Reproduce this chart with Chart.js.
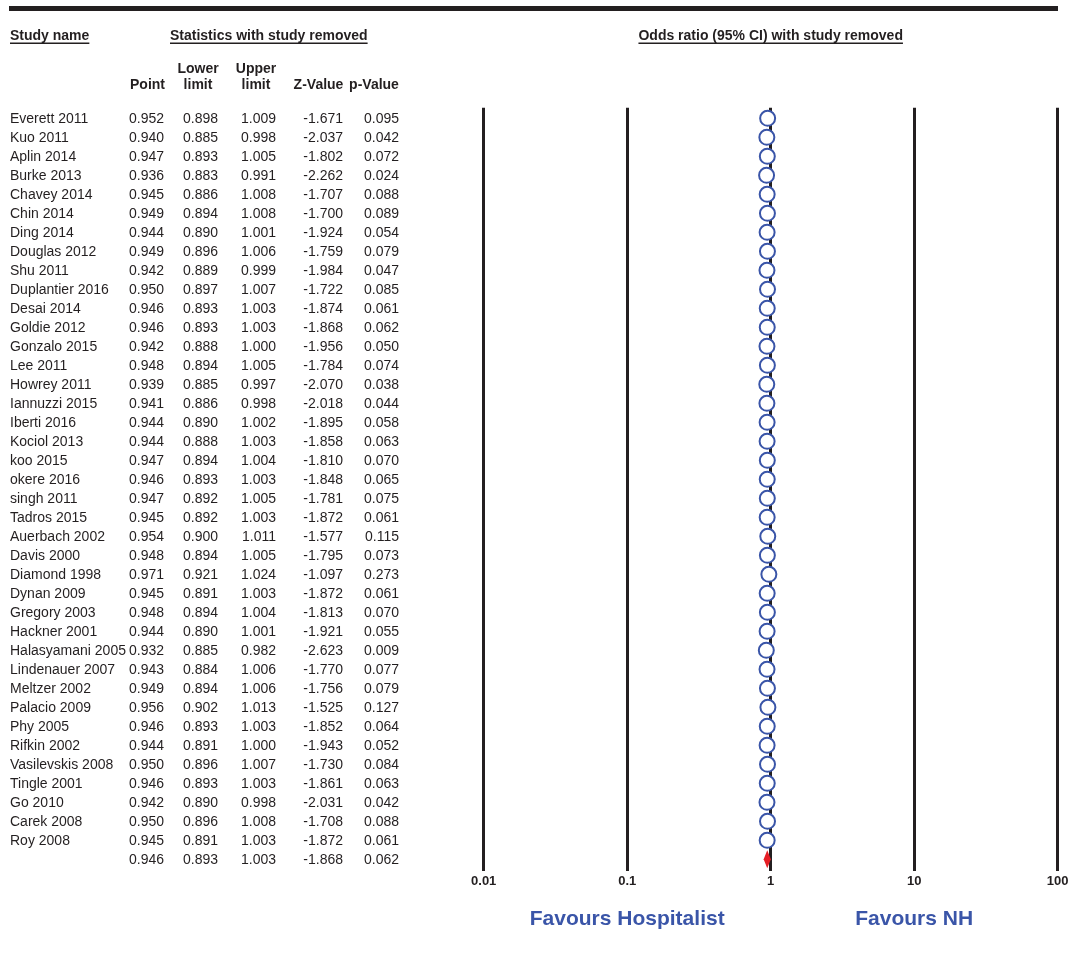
<!DOCTYPE html>
<html>
<head>
<meta charset="utf-8">
<script src="https://cdn.jsdelivr.net/npm/chart.js@4"></script>
<style>
  body { margin: 0; background: #fff; }
  canvas { display: block; }
</style>
</head>
<body>
<canvas id="chart" width="1074" height="958"></canvas>
<script>
/* DATA */
const studyNames = [
  "Everett 2011", "Kuo 2011", "Aplin 2014", "Burke 2013", "Chavey 2014", "Chin 2014",
  "Ding 2014", "Douglas 2012", "Shu 2011", "Duplantier 2016", "Desai 2014", "Goldie 2012",
  "Gonzalo 2015", "Lee 2011", "Howrey 2011", "Iannuzzi 2015", "Iberti 2016", "Kociol 2013",
  "koo 2015", "okere 2016", "singh 2011", "Tadros 2015", "Auerbach 2002", "Davis 2000",
  "Diamond 1998", "Dynan 2009", "Gregory 2003", "Hackner 2001", "Halasyamani 2005",
  "Lindenauer 2007", "Meltzer 2002", "Palacio 2009", "Phy 2005", "Rifkin 2002",
  "Vasilevskis 2008", "Tingle 2001", "Go 2010", "Carek 2008", "Roy 2008"
];
const pointEst = [
  0.952, 0.940, 0.947, 0.936, 0.945, 0.949, 0.944, 0.949, 0.942, 0.950, 0.946, 0.946,
  0.942, 0.948, 0.939, 0.941, 0.944, 0.944, 0.947, 0.946, 0.947, 0.945, 0.954, 0.948,
  0.971, 0.945, 0.948, 0.944, 0.932, 0.943, 0.949, 0.956, 0.946, 0.944, 0.950, 0.946,
  0.942, 0.950, 0.945
];
const lowerLimit = [
  0.898, 0.885, 0.893, 0.883, 0.886, 0.894, 0.890, 0.896, 0.889, 0.897, 0.893, 0.893,
  0.888, 0.894, 0.885, 0.886, 0.890, 0.888, 0.894, 0.893, 0.892, 0.892, 0.900, 0.894,
  0.921, 0.891, 0.894, 0.890, 0.885, 0.884, 0.894, 0.902, 0.893, 0.891, 0.896, 0.893,
  0.890, 0.896, 0.891
];
const upperLimit = [
  1.009, 0.998, 1.005, 0.991, 1.008, 1.008, 1.001, 1.006, 0.999, 1.007, 1.003, 1.003,
  1.000, 1.005, 0.997, 0.998, 1.002, 1.003, 1.004, 1.003, 1.005, 1.003, 1.011, 1.005,
  1.024, 1.003, 1.004, 1.001, 0.982, 1.006, 1.006, 1.013, 1.003, 1.000, 1.007, 1.003,
  0.998, 1.008, 1.003
];
const zValue = [
  -1.671, -2.037, -1.802, -2.262, -1.707, -1.700, -1.924, -1.759, -1.984, -1.722, -1.874, -1.868,
  -1.956, -1.784, -2.070, -2.018, -1.895, -1.858, -1.810, -1.848, -1.781, -1.872, -1.577, -1.795,
  -1.097, -1.872, -1.813, -1.921, -2.623, -1.770, -1.756, -1.525, -1.852, -1.943, -1.730, -1.861,
  -2.031, -1.708, -1.872
];
const pValue = [
  0.095, 0.042, 0.072, 0.024, 0.088, 0.089, 0.054, 0.079, 0.047, 0.085, 0.061, 0.062,
  0.050, 0.074, 0.038, 0.044, 0.058, 0.063, 0.070, 0.065, 0.075, 0.061, 0.115, 0.073,
  0.273, 0.061, 0.070, 0.055, 0.009, 0.077, 0.079, 0.127, 0.064, 0.052, 0.084, 0.063,
  0.042, 0.088, 0.061
];
// overall: point, lower, upper, z, p
const summaryStats = [0.946, 0.893, 1.003, -1.868, 0.062];

const tickValues = [0.01, 0.1, 1, 10, 100];
const tickLabels = ["0.01", "0.1", "1", "10", "100"];
const favourLabels = ["Favours Hospitalist", "Favours NH"];
const favourAt = [0.1, 10];

/* STYLE */
const ink = "#231f20";
const blue = "#3a55a8";
const red = "#e61e25";
const fam = '"Liberation Sans", Arial, Helvetica, sans-serif';

const colRight = [164, 218, 276, 343, 399];
const colCenter = [147.5, 198, 256, 318.5, 374];
const headTop = ["", "Lower", "Upper", "", ""];
const headBottom = ["Point", "limit", "limit", "Z-Value", "p-Value"];

function underlined(ctx, text, x, y) {
  ctx.textAlign = "left";
  ctx.textBaseline = "alphabetic";
  ctx.fillText(text, x, y);
  let w = ctx.measureText(text).width;
  ctx.fillRect(x, y + 2.5, w, 1.5);
}

/* TABLE + DECORATION */
const forestPlugin = {
  id: "forest",
  beforeDatasetsDraw(chart) {
    const { ctx, scales: { x, y } } = chart;
    // CI whiskers (mostly hidden behind the circles)
    ctx.save();
    ctx.strokeStyle = blue;
    ctx.lineWidth = 1.5;
    studyNames.forEach((n, i) => {
      let py = y.getPixelForValue(i);
      ctx.beginPath();
      ctx.moveTo(x.getPixelForValue(lowerLimit[i]), py);
      ctx.lineTo(x.getPixelForValue(upperLimit[i]), py);
      ctx.stroke();
    });
    ctx.restore();
  },
  afterDatasetsDraw(chart) {
    const { ctx, scales: { x, y } } = chart;
    // summary diamond
    let py = y.getPixelForValue(studyNames.length);
    ctx.save();
    ctx.fillStyle = red;
    ctx.beginPath();
    ctx.moveTo(x.getPixelForValue(summaryStats[1]), py);
    ctx.lineTo(x.getPixelForValue(summaryStats[0]), py - 9);
    ctx.lineTo(x.getPixelForValue(summaryStats[2]), py);
    ctx.lineTo(x.getPixelForValue(summaryStats[0]), py + 9);
    ctx.closePath();
    ctx.fill();
    ctx.restore();
  },
  afterDraw(chart) {
    const { ctx, scales: { x, y } } = chart;
    ctx.save();
    ctx.fillStyle = ink;

    // top rule
    ctx.fillRect(9, 6, 1049, 5);

    // headers
    ctx.font = "bold 14px " + fam;
    underlined(ctx, "Study name", 10, 40);
    underlined(ctx, "Statistics with study removed", 170, 40);
    let t = "Odds ratio (95% CI) with study removed";
    underlined(ctx, t, x.getPixelForValue(1) - ctx.measureText(t).width / 2, 40);

    ctx.textAlign = "center";
    ctx.textBaseline = "middle";
    colCenter.forEach((cx, k) => {
      if (headTop[k]) ctx.fillText(headTop[k], cx, 69.5);
      ctx.fillText(headBottom[k], cx, 85.5);
    });

    // rows
    ctx.font = "14px " + fam;
    studyNames.forEach((name, i) => {
      let py = y.getPixelForValue(i) + 0.5;
      ctx.textAlign = "left";
      ctx.fillText(name, 10, py);
      ctx.textAlign = "right";
      [pointEst[i], lowerLimit[i], upperLimit[i], zValue[i], pValue[i]].forEach((v, k) => {
        ctx.fillText(v.toFixed(3), colRight[k], py);
      });
    });
    let sy = y.getPixelForValue(studyNames.length) + 0.5;
    ctx.textAlign = "right";
    summaryStats.forEach((v, k) => ctx.fillText(v.toFixed(3), colRight[k], sy));

    // favours labels
    ctx.fillStyle = blue;
    ctx.font = "bold 21px " + fam;
    ctx.textAlign = "center";
    favourLabels.forEach((lab, k) => {
      ctx.fillText(lab, x.getPixelForValue(favourAt[k]), 919);
    });
    ctx.restore();
  }
};

/* CHART */
const points = pointEst.map((v, i) => ({ x: v, y: i }));

new Chart(document.getElementById("chart"), {
  type: "scatter",
  data: {
    datasets: [{
      data: points,
      pointStyle: "circle",
      pointRadius: 7.5,
      pointBorderWidth: 2,
      pointBorderColor: blue,
      pointBackgroundColor: "#ffffff"
    }]
  },
  options: {
    responsive: false,
    animation: false,
    layout: { padding: { left: 483.7, right: 16.3, top: 107.85, bottom: 67.3 } },
    plugins: {
      legend: { display: false },
      tooltip: { enabled: false }
    },
    scales: {
      x: {
        type: "logarithmic",
        min: 0.01,
        max: 100,
        afterBuildTicks: s => { s.ticks = tickValues.map(v => ({ value: v })); },
        afterFit: s => { s.height = 20; },
        grid: { color: ink, lineWidth: 3, drawTicks: false },
        border: { display: false },
        ticks: {
          padding: 3,
          maxRotation: 0,
          autoSkip: false,
          color: ink,
          font: { family: fam, size: 13, weight: "bold" },
          callback: (v, i) => tickLabels[i]
        }
      },
      y: {
        type: "linear",
        reverse: true,
        min: -0.55,
        max: 39.6,
        display: false
      }
    }
  },
  plugins: [forestPlugin]
});
</script>
</body>
</html>
